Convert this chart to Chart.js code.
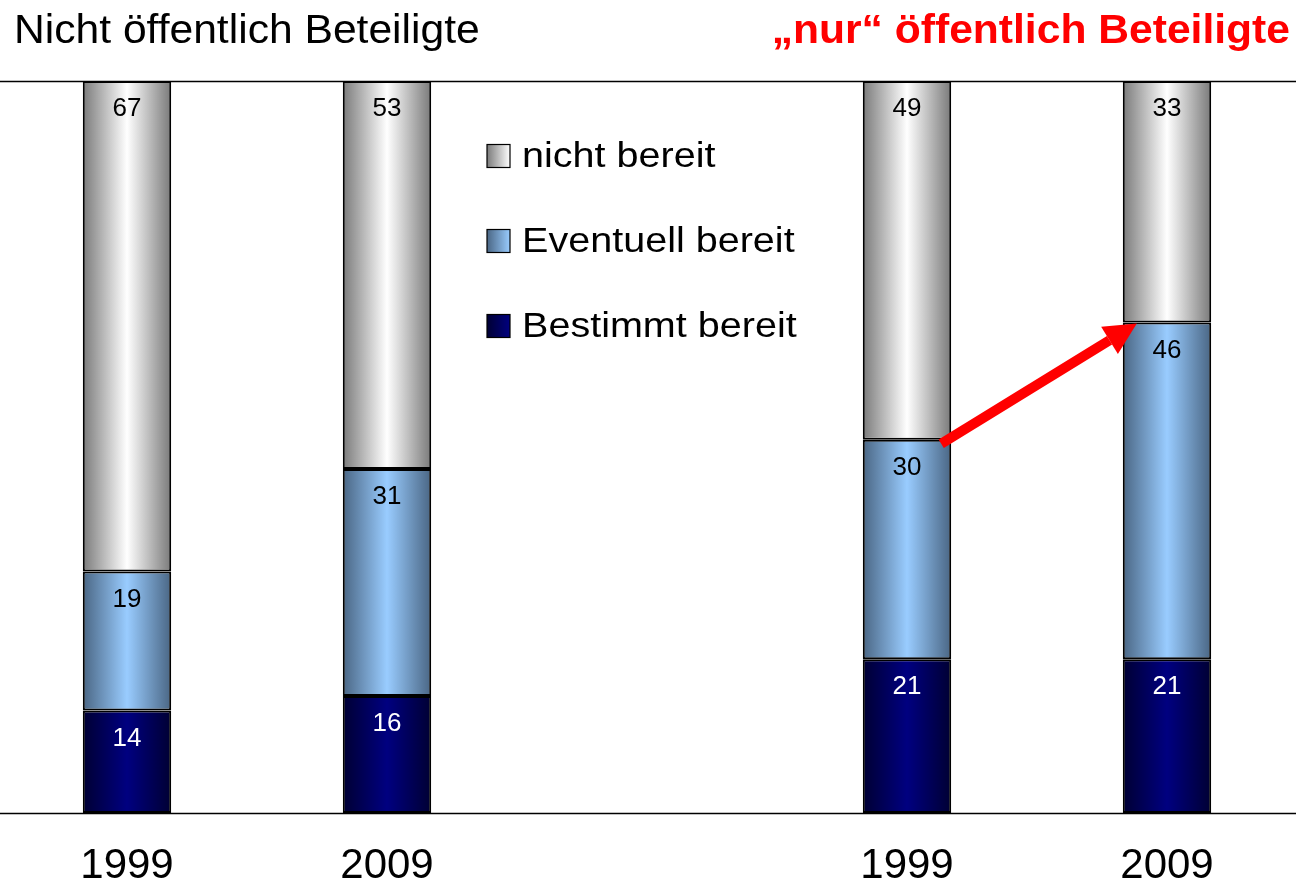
<!DOCTYPE html>
<html>
<head>
<meta charset="utf-8">
<script src="https://cdn.jsdelivr.net/npm/chart.js@4/dist/chart.umd.min.js"></script>
<style>
  html, body { margin: 0; padding: 0; background: #fff; overflow: hidden; }
  #wrap { width: 1300px; height: 886px; margin-left: -3px; }
</style>
</head>
<body>
<div id="wrap"><canvas id="c"></canvas></div>
<script>
// ── DATA ─────────────────────────────────────────────────────────────
const years = ["1999", "2009", "", "1999", "2009"]
const bestimmt = [14, 16, null, 21, 21]
const eventuell = [19, 31, null, 30, 46]
const nichtBereit = [67, 53, null, 49, 33]

const titleLeft = "Nicht öffentlich Beteiligte"
const titleRight = "„nur“ öffentlich Beteiligte"

const FONT = "'Liberation Sans', Arial, sans-serif"
const BAR_PCT = 0.34
const OFF = 3 // canvas is shifted 3px left of the page

// edge / centre colours of the horizontal bar gradients
const shades = {
  nicht: ["#7a7a7a", "#ffffff"],
  event: ["#4a6684", "#99ccff"],
  best: ["#000033", "#000080"]
}

function barGradient(key) {
  return c => {
    const chart = c.chart
    const xs = chart.scales.x
    if (!chart.chartArea || !xs) return shades[key][1]
    const cx = xs.getPixelForValue(c.dataIndex)
    const half = (xs.width / years.length) * BAR_PCT / 2
    const g = chart.ctx.createLinearGradient(cx - half, 0, cx + half, 0)
    g.addColorStop(0, shades[key][0])
    g.addColorStop(0.5, shades[key][1])
    g.addColorStop(1, shades[key][0])
    return g
  }
}

// stretched text helper (reference text is wider than Arial)
function wideText(ctx, txt, x, y, sx, align) {
  const w = ctx.measureText(txt).width * sx
  let left = x
  if (align === "right") left = x - w
  ctx.save()
  ctx.textAlign = "left"
  ctx.translate(left, y)
  ctx.scale(sx, 1)
  ctx.fillText(txt, 0, 0)
  ctx.restore()
}

// ── PLUGIN: frame lines, titles, legend, values, arrow ──────────────
const decor = {
  id: "decor",
  beforeDatasetsDraw(chart) {
    const { ctx } = chart
    const y = chart.scales.y
    ctx.save()
    ctx.strokeStyle = "#000"
    ctx.lineWidth = 1.5
    ;[100, 0].forEach(v => {
      const py = Math.round(y.getPixelForValue(v)) + 0.5
      ctx.beginPath()
      ctx.moveTo(0, py)
      ctx.lineTo(chart.width, py)
      ctx.stroke()
    })
    ctx.restore()
  },
  afterDraw(chart) {
    const { ctx } = chart
    ctx.save()

    // titles
    ctx.textBaseline = "alphabetic"
    ctx.font = "40px " + FONT
    ctx.fillStyle = "#000"
    wideText(ctx, titleLeft, 14 + OFF, 43, 1.065, "left")
    ctx.font = "bold 40px " + FONT
    ctx.fillStyle = "#ff0000"
    wideText(ctx, titleRight, 1290 + OFF, 43, 1.065, "right")

    // segment values
    ctx.font = "26px " + FONT
    ctx.textAlign = "center"
    ctx.textBaseline = "middle"
    chart.data.datasets.forEach((ds, di) => {
      const meta = chart.getDatasetMeta(di)
      meta.data.forEach((el, i) => {
        if (ds.data[i] == null) return
        const top = Math.min(el.y, el.base)
        ctx.fillStyle = di === 0 ? "#fff" : "#000"
        ctx.fillText(String(ds.data[i]), el.x, top + 28)
      })
    })

    // legend (top entry = top of stack)
    const legendItems = chart.data.datasets.slice().reverse()
    const keys = ["nicht", "event", "best"]
    ctx.font = "35px " + FONT
    ctx.textBaseline = "middle"
    legendItems.forEach((ds, k) => {
      const cy = 156 + k * 85
      const bx = 487 + OFF, bs = 23
      const g = ctx.createLinearGradient(bx, 0, bx + bs, 0)
      g.addColorStop(0, shades[keys[k]][0])
      g.addColorStop(1, shades[keys[k]][1])
      ctx.fillStyle = g
      ctx.fillRect(bx, cy - bs / 2, bs, bs)
      ctx.strokeStyle = "#000"
      ctx.lineWidth = 1.2
      ctx.strokeRect(bx, cy - bs / 2, bs, bs)
      ctx.fillStyle = "#000"
      wideText(ctx, ds.label, 522 + OFF, cy + 1, 1.13, "left")
    })

    // red arrow between the tops of the "Eventuell" segments of the last two bars
    const m = chart.getDatasetMeta(1)
    const a = m.data[3], b = m.data[4]
    const x0 = a.x + a.width / 2 - 10, y0 = a.y + 4
    const x1 = b.x - b.width / 2 + 14, y1 = b.y + 1
    const ang = Math.atan2(y1 - y0, x1 - x0)
    const headLen = 32, headW = 16
    const hx = x1 - headLen * Math.cos(ang), hy = y1 - headLen * Math.sin(ang)
    ctx.strokeStyle = "#ff0000"
    ctx.fillStyle = "#ff0000"
    ctx.lineWidth = 10
    ctx.beginPath()
    ctx.moveTo(x0, y0)
    ctx.lineTo(hx, hy)
    ctx.stroke()
    ctx.beginPath()
    ctx.moveTo(x1, y1)
    ctx.lineTo(hx + headW * Math.sin(ang), hy - headW * Math.cos(ang))
    ctx.lineTo(hx - headW * Math.sin(ang), hy + headW * Math.cos(ang))
    ctx.closePath()
    ctx.fill()

    ctx.restore()
  }
}

const common = {
  borderColor: "#000",
  borderWidth: 2,
  borderSkipped: false,
  barPercentage: BAR_PCT,
  categoryPercentage: 1
}

new Chart(document.getElementById("c"), {
  type: "bar",
  data: {
    labels: years,
    datasets: [
      { label: "Bestimmt bereit", data: bestimmt, backgroundColor: barGradient("best"), ...common },
      { label: "Eventuell bereit", data: eventuell, backgroundColor: barGradient("event"), ...common },
      { label: "nicht bereit", data: nichtBereit, backgroundColor: barGradient("nicht"), ...common }
    ]
  },
  options: {
    responsive: true,
    maintainAspectRatio: false,
    animation: false,
    layout: { padding: { top: 81, left: 0, right: 0, bottom: 0 } },
    plugins: {
      legend: { display: false },
      tooltip: { enabled: false }
    },
    scales: {
      x: {
        stacked: true,
        grid: { display: false, drawTicks: false },
        border: { display: false },
        ticks: { color: "#000", font: { family: FONT, size: 42 }, padding: 28 },
        afterFit: s => { s.height = 73 }
      },
      y: {
        stacked: true,
        display: false,
        min: 0,
        max: 100
      }
    }
  },
  plugins: [decor]
})
</script>
</body>
</html>
